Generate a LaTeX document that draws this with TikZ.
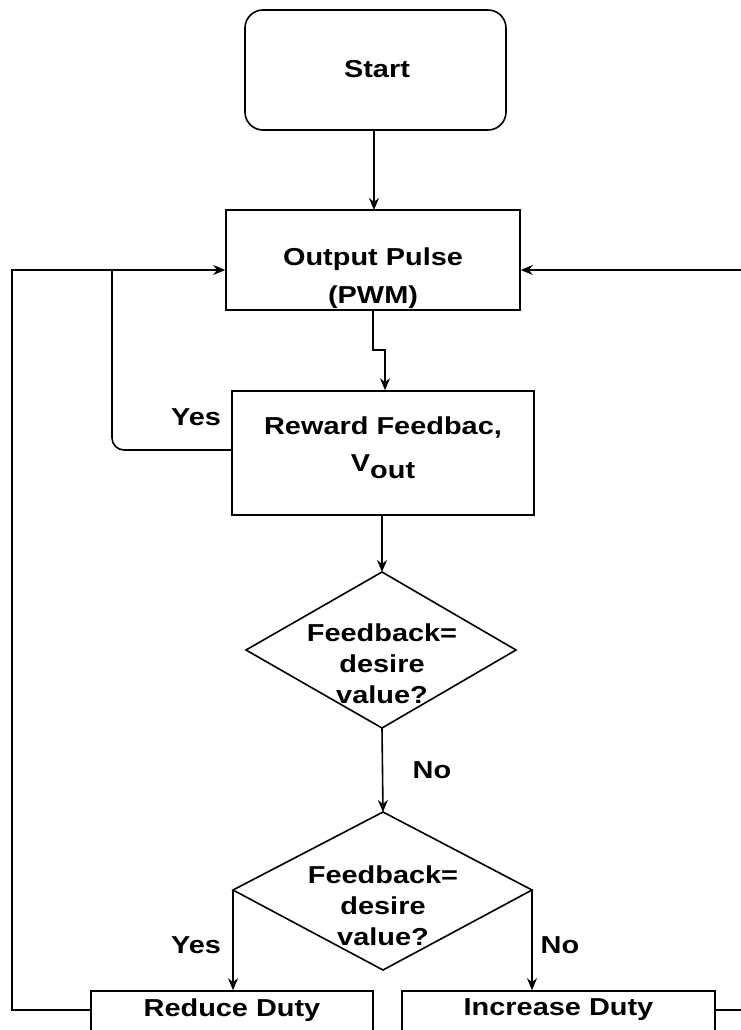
\documentclass[tikz,border=0pt]{standalone}
\usepackage{fontspec}
\setmainfont{Liberation Sans}[FakeStretch=1.18]
\usetikzlibrary{arrows.meta,shapes.geometric}
\begin{document}
\begin{tikzpicture}[x=1pt,y=-1pt,line width=1.6pt,
  >={Stealth[length=12pt,width=10pt]},
  font=\fontsize{24.5}{31}\selectfont\bfseries,
  boxnode/.style={draw,rectangle,inner sep=0pt},
  txt/.style={align=center,inner sep=0pt},
  lbl/.style={inner sep=0pt}]
\clip (0,0) rectangle (741,1030);
\fill[white] (0,0) rectangle (741,1030);
% shapes
\node[boxnode,rounded corners=18pt,minimum width=261pt,minimum height=120pt] (start) at (375.5,70) {};
\node[txt] (startt) at (377,69) {Start};
\node[boxnode,minimum width=294pt,minimum height=100pt] (out) at (373,260) {};
\node[txt] (outt) at (373,278) {Output Pulse\\[7pt](PWM)};
\node[boxnode,minimum width=302pt,minimum height=124pt] (rew) at (383,453) {};
\node[txt] (rewt) at (383,448) {Reward Feedbac,\\[6pt]V\raisebox{-7pt}{out}};
\draw (246,650) -- (382,572) -- (516,650) -- (382,728) -- cycle;
\coordinate (d1n) at (382,572);
\coordinate (d1s) at (382,728);
\node[txt] (d1t) at (382,664) {Feedback=\\desire\\value?};
\draw (233,890) -- (383,812) -- (532,890) -- (383,970) -- cycle;
\coordinate (d2n) at (383,812);
\coordinate (d2w) at (233,890);
\coordinate (d2e) at (532,890);
\node[txt] (d2t) at (383,906) {Feedback=\\desire\\value?};
\node[boxnode,minimum width=282pt,minimum height=44pt] (red) at (232,1013) {};
\node[txt] (redt) at (232,1010) {Reduce Duty};
\node[boxnode,minimum width=313pt,minimum height=44pt] (inc) at (558.5,1013) {};
\node[txt] (inct) at (558.5,1010) {Increase Duty};
% labels
\node[lbl] (yes1) at (196,417) {Yes};
\node[lbl] (no1) at (432,770) {No};
\node[lbl] (yes2) at (196,945) {Yes};
\node[lbl] (no2) at (560,945) {No};
% connectors
\draw[->] (start.south -| 374,0) -- (374,210);
\coordinate (j1) at (373,350);
\coordinate (j2) at (385,350);
\draw[->] (out.south) -- (j1) -- (j2) -- (j2 |- rew.north);
\draw[->] (rew.south -| d1n) -- (d1n);
\draw[->] (d1s) -- (d2n);
\draw[->] (d2w) -- (d2w |- red.north);
\draw[->] (d2e) -- (d2e |- inc.north);
\coordinate (c2) at (112,270);
\draw[rounded corners=12pt] (rew.west |- 0,450) -- (112,450) -- (c2);
\coordinate (c3) at (12,270);
\draw[->] (red.west |- 0,1010) -| (c3) -- (c3 -| out.west);
\coordinate (c4) at (750,270);
\draw[->] (inc.east |- 0,1010) -| (c4) -- (c4 -| out.east);
\end{tikzpicture}
\end{document}
